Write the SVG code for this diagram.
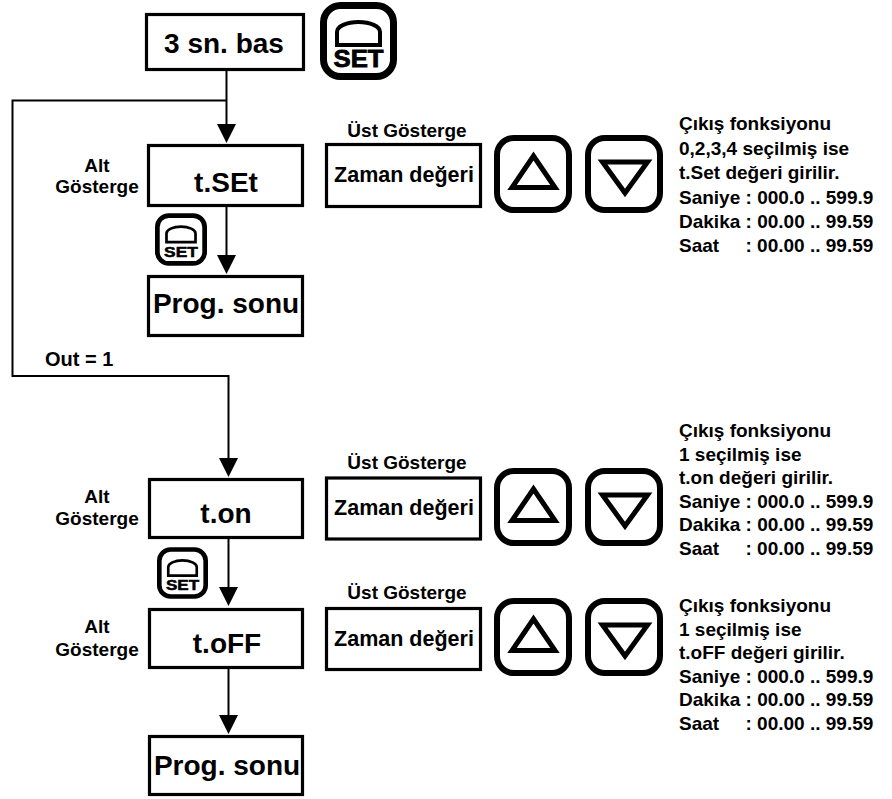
<svg xmlns="http://www.w3.org/2000/svg" width="892" height="799" viewBox="0 0 892 799">
<style>
text{font-family:"Liberation Sans",Arial,sans-serif;font-weight:bold;fill:#000}
.box{fill:#fff;stroke:#000;stroke-width:3.2}
.big{font-size:28px;text-anchor:middle}
.mid{font-size:21.5px;text-anchor:middle}
.lbl{font-size:19px;text-anchor:middle}
.info{font-size:19px}
.conn{fill:none;stroke:#000;stroke-width:2}
</style>
<defs>
<marker id="arr" markerUnits="userSpaceOnUse" markerWidth="20" markerHeight="20" refX="0" refY="9.5" orient="auto">
<path d="M0,0 L19,9.5 L0,19 z" fill="#000"/>
</marker>
<symbol id="setbtn" viewBox="0 0 77 78">
<rect x="3.5" y="3.5" width="70" height="71" rx="17" fill="#fff" stroke="#000" stroke-width="7"/>
<path d="M17,43 V30 A21.5,10 0 0 1 60,30 V43 Z" fill="none" stroke="#000" stroke-width="4"/>
<text x="38.5" y="64.7" font-size="23" text-anchor="middle" textLength="50" lengthAdjust="spacingAndGlyphs" stroke="#000" stroke-width="0.8">SET</text>
</symbol>
<symbol id="upbtn" viewBox="0 0 78 78">
<rect x="3" y="3" width="72" height="72" rx="17" fill="#fff" stroke="#000" stroke-width="6"/>
<polygon points="39.5,21 18,52.5 61,52.5" fill="none" stroke="#000" stroke-width="5"/>
</symbol>
<symbol id="downbtn" viewBox="0 0 78 78">
<rect x="3" y="3" width="72" height="72" rx="17" fill="#fff" stroke="#000" stroke-width="6"/>
<polygon points="17.5,27 62.5,27 40,58" fill="none" stroke="#000" stroke-width="5"/>
</symbol>
</defs>

<g id="connectors">
<path class="conn" d="M226.5,71 V124" marker-end="url(#arr)"/>
<path class="conn" d="M226.5,100.5 H12.5 V376 H228.5 V458" marker-end="url(#arr)"/>
<path class="conn" d="M226.5,207 V255" marker-end="url(#arr)"/>
<path class="conn" d="M228.5,539 V587" marker-end="url(#arr)"/>
<path class="conn" d="M228.5,669 V715" marker-end="url(#arr)"/>
<text x="45" y="366" font-size="20">Out = 1</text>
</g>

<g id="node-start">
<rect class="box" x="146.5" y="14.5" width="157" height="55"/>
<text class="big" x="224" y="53" font-size="29">3 sn. bas</text>
<use href="#setbtn" x="320" y="2" width="77" height="78"/>
</g>

<g id="node-tset">
<text class="lbl" x="97" y="172">Alt</text>
<text class="lbl" x="97" y="193">Gösterge</text>
<rect class="box" x="148.5" y="145.5" width="154" height="60"/>
<text class="big" x="226" y="192">t.SEt</text>
<use href="#setbtn" x="155" y="213" width="52" height="53"/>
</g>

<g id="node-prog1">
<rect class="box" x="148.5" y="276.5" width="154" height="59"/>
<text class="big" x="226" y="313" font-size="26">Prog. sonu</text>
</g>

<g id="node-tset-display">
<text class="lbl" x="407" y="137">Üst Gösterge</text>
<rect class="box" x="326.5" y="144.5" width="154" height="62"/>
<text class="mid" x="404" y="182">Zaman değeri</text>
<use href="#upbtn" x="494" y="135" width="78" height="78"/>
<use href="#downbtn" x="585" y="135" width="78" height="78"/>
<text class="info" x="679" y="130">Çıkış fonksiyonu</text>
<text class="info" x="679" y="154.5">0,2,3,4 seçilmiş ise</text>
<text class="info" x="679" y="179">t.Set değeri girilir.</text>
<text class="info" x="679" y="203.5">Saniye : 000.0 .. 599.9</text>
<text class="info" x="679" y="228">Dakika : 00.00 .. 99.59</text>
<text class="info" x="679" y="252">Saat<tspan x="745.5">: 00.00 .. 99.59</tspan></text>
</g>

<g id="node-ton">
<text class="lbl" x="97" y="503">Alt</text>
<text class="lbl" x="97" y="525">Gösterge</text>
<rect class="box" x="149.5" y="479.5" width="153" height="58"/>
<text class="big" x="226" y="523">t.on</text>
<use href="#setbtn" x="157" y="547" width="51" height="52"/>
</g>

<g id="node-ton-display">
<text class="lbl" x="407" y="469">Üst Gösterge</text>
<rect class="box" x="326.5" y="478" width="154" height="61"/>
<text class="mid" x="404" y="515">Zaman değeri</text>
<use href="#upbtn" x="494" y="468" width="78" height="78"/>
<use href="#downbtn" x="585" y="468" width="78" height="78"/>
<text class="info" x="679" y="437">Çıkış fonksiyonu</text>
<text class="info" x="679" y="460.5">1 seçilmiş ise</text>
<text class="info" x="679" y="484">t.on değeri girilir.</text>
<text class="info" x="679" y="507.5">Saniye : 000.0 .. 599.9</text>
<text class="info" x="679" y="531">Dakika : 00.00 .. 99.59</text>
<text class="info" x="679" y="554.5">Saat<tspan x="745.5">: 00.00 .. 99.59</tspan></text>
</g>

<g id="node-toff">
<text class="lbl" x="97" y="633">Alt</text>
<text class="lbl" x="97" y="656">Gösterge</text>
<rect class="box" x="149.5" y="609.5" width="153" height="58"/>
<text class="big" x="227" y="653">t.oFF</text>
</g>

<g id="node-toff-display">
<text class="lbl" x="407" y="599">Üst Gösterge</text>
<rect class="box" x="326.5" y="608.5" width="154" height="61"/>
<text class="mid" x="404" y="646">Zaman değeri</text>
<use href="#upbtn" x="494" y="598" width="78" height="78"/>
<use href="#downbtn" x="585" y="598" width="78" height="78"/>
<text class="info" x="679" y="612">Çıkış fonksiyonu</text>
<text class="info" x="679" y="635.5">1 seçilmiş ise</text>
<text class="info" x="679" y="659">t.oFF değeri girilir.</text>
<text class="info" x="679" y="682.5">Saniye : 000.0 .. 599.9</text>
<text class="info" x="679" y="706">Dakika : 00.00 .. 99.59</text>
<text class="info" x="679" y="730">Saat<tspan x="745.5">: 00.00 .. 99.59</tspan></text>
</g>

<g id="node-prog2">
<rect class="box" x="149.5" y="736.5" width="153" height="58"/>
<text class="big" x="227" y="775" font-size="26">Prog. sonu</text>
</g>
</svg>
